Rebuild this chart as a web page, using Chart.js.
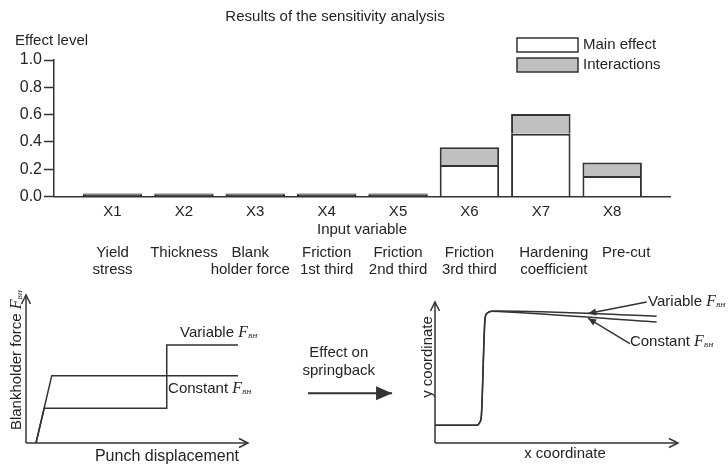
<!DOCTYPE html>
<html>
<head>
<meta charset="utf-8">
<script src="https://cdn.jsdelivr.net/npm/chart.js@4.4.1/dist/chart.umd.min.js"></script>
<style>
  html, body { margin: 0; padding: 0; background: #fff; }
  #wrap { position: relative; width: 728px; height: 465px; overflow: hidden; background: #fff; }
  canvas { position: absolute; }
</style>
</head>
<body>
<div id="wrap">
  <canvas id="effects" width="728" height="285" style="left:0;top:0;width:728px;height:285px"></canvas>
  <canvas id="force" width="420" height="180" style="left:0;top:285px;width:420px;height:180px"></canvas>
  <canvas id="profile" width="308" height="180" style="left:420px;top:285px;width:308px;height:180px"></canvas>
</div>
<script>
// ---- Sensitivity analysis results ----
const categories = ['X1', 'X2', 'X3', 'X4', 'X5', 'X6', 'X7', 'X8'];
const categoryNotes = [
  ['Yield', 'stress'], ['Thickness'], ['Blank', 'holder force'],
  ['Friction', '1st third'], ['Friction', '2nd third'], ['Friction', '3rd third'],
  ['Hardening', 'coefficient'], ['Pre-cut']
];
const mainEffect   = [0.012, 0.012, 0.012, 0.012, 0.012, 0.23, 0.46, 0.15];
const interactions = [0.01, 0.01, 0.01, 0.01, 0.01, 0.13, 0.145, 0.10];
const effectTicks  = [0, 0.2, 0.4, 0.6, 0.8, 1.0];

// ---- Blankholder force vs punch displacement (schematic units 0-100) ----
const constantFbh = [[4.5, 0], [11.6, 45.5], [95.5, 45.5]];
const variableFbh = [[4.5, 0], [8.2, 23.4], [63.4, 23.4], [63.4, 66.2], [95.5, 66.2]];
const forceAxisX = [[0, 0], [100, 0]];
const forceAxisY = [[0, 0], [0, 100]];
const springbackArrow = [[127, 33.6], [164.9, 33.6]];

// ---- Part profile after springback (schematic units 0-100) ----
const profileBase = [[0, 12.6], [17.2, 12.6], [18.5, 14.9], [19.1, 19.7], [20.6, 88.4], [21.3, 91.8], [23.3, 93.4]];
const profileVariableEnd = [[26, 93.6], [91.2, 89.9]];
const profileConstantEnd = [[26, 93.3], [91.2, 85.8]];
const profileAxisX = [[0, 0], [100, 0]];
const profileAxisY = [[0, 0], [0, 100]];
const pointerVariable = [[87.1, 100], [63, 91.8]];
const pointerConstant = [[80.2, 70.5], [63, 88.4]];

const SANS = '"Liberation Sans", Arial, Helvetica, sans-serif';
const SERIF = '"Liberation Serif", "Times New Roman", serif';
const TEXT = '#242424';
const LINE = '#333333';
const SLIVER = '#111111';
const MAIN_FILL = '#ffffff';
const INTER_FILL = '#c0c0c0';

Chart.defaults.animation = false;
Chart.defaults.devicePixelRatio = 1;

const toXY = pts => pts.map(([x, y]) => ({ x, y }));
// bars too thin to show their fill are drawn solid
const isTiny = i => mainEffect[i] + interactions[i] < 0.05;

// ---------------- Bar chart ----------------
const effectsDecor = {
  id: 'effectsDecor',
  afterDraw(chart) {
    const { ctx, chartArea, scales: { x } } = chart;
    ctx.save();
    ctx.font = `15px ${SANS}`;
    ctx.fillStyle = TEXT;
    ctx.textBaseline = 'middle';
    ctx.textAlign = 'left';
    ctx.fillText('Effect level', chartArea.left - 39, chartArea.top - 19);

    // legend, stacked vertically
    const fills = [MAIN_FILL, INTER_FILL];
    chart.data.datasets.forEach((ds, i) => {
      const top = 38 + i * 20;
      ctx.fillStyle = fills[i];
      ctx.fillRect(517, top, 61, 14);
      ctx.strokeStyle = LINE;
      ctx.lineWidth = 1.5;
      ctx.strokeRect(517, top, 61, 14);
      ctx.fillStyle = TEXT;
      ctx.fillText(ds.label, 583, top + 7);
    });

    // descriptive names under each input variable
    const shift = [0, 0, -5, 0, 0, 0, 13, 14];
    ctx.textAlign = 'center';
    categoryNotes.forEach((lines, i) => {
      const cx = x.getPixelForValue(i + 1) + shift[i];
      lines.forEach((ln, j) => ctx.fillText(ln, cx, chartArea.bottom + 56.5 + j * 17));
    });
    ctx.restore();
  }
};

new Chart(document.getElementById('effects'), {
  type: 'bar',
  data: {
    datasets: [
      {
        label: 'Main effect',
        data: mainEffect.map((v, i) => ({ x: i + 1, y: v })),
        backgroundColor: c => isTiny(c.dataIndex) ? SLIVER : MAIN_FILL,
        borderColor: c => isTiny(c.dataIndex) ? SLIVER : LINE,
        borderWidth: 2, borderSkipped: 'start'
      },
      {
        label: 'Interactions',
        data: interactions.map((v, i) => ({ x: i + 1, y: v })),
        backgroundColor: c => isTiny(c.dataIndex) ? SLIVER : INTER_FILL,
        borderColor: c => isTiny(c.dataIndex) ? SLIVER : LINE,
        borderWidth: 2, borderSkipped: 'start'
      }
    ]
  },
  options: {
    responsive: false,
    barPercentage: 0.833,
    categoryPercentage: 1,
    layout: { padding: { left: 0, right: 58, top: 0, bottom: 46 } },
    plugins: {
      legend: { display: false },
      tooltip: { enabled: false },
      title: {
        display: true,
        text: 'Results of the sensitivity analysis',
        color: TEXT,
        font: { family: SANS, size: 15, weight: 'normal' },
        padding: { top: 8, bottom: 34 }
      }
    },
    scales: {
      x: {
        type: 'linear', min: 0.18, max: 8.81, stacked: true, offset: false,
        afterBuildTicks: s => { s.ticks = categories.map((_, i) => ({ value: i + 1 })); },
        afterFit: s => { s.height = 42.5; },
        grid: { display: false, drawTicks: false, offset: false },
        border: { display: true, color: LINE, width: 1.5, z: 1 },
        ticks: {
          autoSkip: false, maxRotation: 0, padding: 6, color: TEXT,
          font: { family: SANS, size: 15 },
          callback: v => categories[v - 1] ?? ''
        },
        title: {
          display: true, text: 'Input variable', color: TEXT,
          font: { family: SANS, size: 15 }, padding: { top: 0, bottom: 0 }
        }
      },
      y: {
        min: 0, max: 1, stacked: true,
        afterBuildTicks: s => { s.ticks = effectTicks.map(v => ({ value: v })); },
        afterFit: s => { s.width = 54; },
        grid: { drawOnChartArea: false, drawTicks: true, tickLength: 10, tickWidth: 1.5, tickColor: LINE },
        border: { color: LINE, width: 1.5 },
        ticks: { padding: 2, color: TEXT, font: { family: SANS, size: 16 }, callback: v => v.toFixed(1) }
      }
    }
  },
  plugins: [effectsDecor]
});

// ---------------- Schematic helpers ----------------
const arrowHeads = {
  id: 'arrowHeads',
  afterDatasetsDraw(chart) {
    const ctx = chart.ctx;
    chart.data.datasets.forEach((ds, i) => {
      if (!ds.arrowHead) return;
      const pts = chart.getDatasetMeta(i).data;
      const a = pts[pts.length - 2], b = pts[pts.length - 1];
      const ang = Math.atan2(b.y - a.y, b.x - a.x);
      const { length: L, width: W, style } = ds.arrowHead;
      ctx.save();
      ctx.translate(b.x, b.y);
      ctx.rotate(ang);
      ctx.beginPath();
      ctx.moveTo(-L, -W);
      ctx.lineTo(0, 0);
      ctx.lineTo(-L, W);
      if (style === 'filled') {
        ctx.closePath();
        ctx.fillStyle = ds.borderColor;
        ctx.fill();
      } else {
        ctx.strokeStyle = ds.borderColor;
        ctx.lineWidth = ds.borderWidth;
        ctx.lineJoin = 'miter';
        ctx.stroke();
      }
      ctx.restore();
    });
  }
};

const richText = items => ({
  id: 'richText',
  afterDraw(chart) {
    const { ctx, scales: { x, y } } = chart;
    items.forEach(item => {
      ctx.save();
      ctx.translate(x.getPixelForValue(item.x), y.getPixelForValue(item.y));
      if (item.rotate) ctx.rotate(item.rotate * Math.PI / 180);
      const widths = item.parts.map(p => { ctx.font = p.font; return ctx.measureText(p.text).width; });
      const total = widths.reduce((s, w) => s + w, 0);
      let cx = item.align === 'center' ? -total / 2 : 0;
      ctx.textBaseline = 'middle';
      ctx.textAlign = 'left';
      ctx.fillStyle = TEXT;
      item.parts.forEach((p, k) => {
        ctx.font = p.font;
        ctx.fillText(p.text, cx, p.dy || 0);
        cx += widths[k];
      });
      ctx.restore();
    });
  }
});

const sans = (t, size = 15) => ({ text: t, font: `${size}px ${SANS}` });
const symF = () => ({ text: 'F', font: `italic 16px ${SERIF}` });
const subBH = () => ({ text: 'BH', font: `italic 7px ${SERIF}`, dy: 3 });

const lineDs = (label, pts, extra = {}) => Object.assign({
  label, data: toXY(pts), showLine: true, fill: false, clip: false,
  borderColor: LINE, borderWidth: 1.5, pointRadius: 0, tension: 0
}, extra);

const schematicScales = {
  x: { type: 'linear', min: 0, max: 100, display: false },
  y: { type: 'linear', min: 0, max: 100, display: false }
};

// ---------------- Blankholder force schematic ----------------
new Chart(document.getElementById('force'), {
  type: 'scatter',
  data: {
    datasets: [
      lineDs('x axis', forceAxisX, { arrowHead: { length: 9, width: 4.5, style: 'open' } }),
      lineDs('y axis', forceAxisY, { arrowHead: { length: 9, width: 4.5, style: 'open' } }),
      lineDs('Constant F_BH', constantFbh),
      lineDs('Variable F_BH', variableFbh),
      lineDs('Effect on springback', springbackArrow, { borderWidth: 2, arrowHead: { length: 16, width: 7, style: 'filled' } })
    ]
  },
  options: {
    responsive: false,
    layout: { padding: { left: 26, right: 172, top: 10, bottom: 22 } },
    plugins: { legend: { display: false }, tooltip: { enabled: false } },
    scales: schematicScales
  },
  plugins: [arrowHeads, richText([
    { x: -4, y: 56, rotate: -90, align: 'center', parts: [sans('Blankholder force '), symF(), subBH()] },
    { x: 63.5, y: -9.5, align: 'center', parts: [sans('Punch displacement', 16)] },
    { x: 69.4, y: 74.3, align: 'left', parts: [sans('Variable '), symF(), subBH()] },
    { x: 64, y: 36.5, align: 'left', parts: [sans('Constant '), symF(), subBH()] },
    { x: 140.9, y: 61, align: 'center', parts: [sans('Effect on')] },
    { x: 140.9, y: 48.9, align: 'center', parts: [sans('springback')] }
  ])]
});

// ---------------- Profile schematic ----------------
new Chart(document.getElementById('profile'), {
  type: 'scatter',
  data: {
    datasets: [
      lineDs('x axis', profileAxisX, { arrowHead: { length: 9, width: 4.5, style: 'open' } }),
      lineDs('y axis', profileAxisY, { arrowHead: { length: 9, width: 4.5, style: 'open' } }),
      lineDs('Variable F_BH', profileBase.concat(profileVariableEnd), { cubicInterpolationMode: 'monotone' }),
      lineDs('Constant F_BH', profileBase.concat(profileConstantEnd), { cubicInterpolationMode: 'monotone' }),
      lineDs('pointer variable', pointerVariable, { arrowHead: { length: 8, width: 3.5, style: 'filled' } }),
      lineDs('pointer constant', pointerConstant, { arrowHead: { length: 8, width: 3.5, style: 'filled' } })
    ]
  },
  options: {
    responsive: false,
    layout: { padding: { left: 15, right: 50, top: 17, bottom: 22 } },
    plugins: { legend: { display: false }, tooltip: { enabled: false } },
    scales: schematicScales
  },
  plugins: [arrowHeads, richText([
    { x: -3.1, y: 61, rotate: -90, align: 'center', parts: [sans('y coordinate')] },
    { x: 53.5, y: -7.5, align: 'center', parts: [sans('x coordinate')] },
    { x: 87.7, y: 100, align: 'left', parts: [sans('Variable '), symF(), subBH()] },
    { x: 80.2, y: 71.6, align: 'left', parts: [sans('Constant '), symF(), subBH()] }
  ])]
});
</script>
</body>
</html>
